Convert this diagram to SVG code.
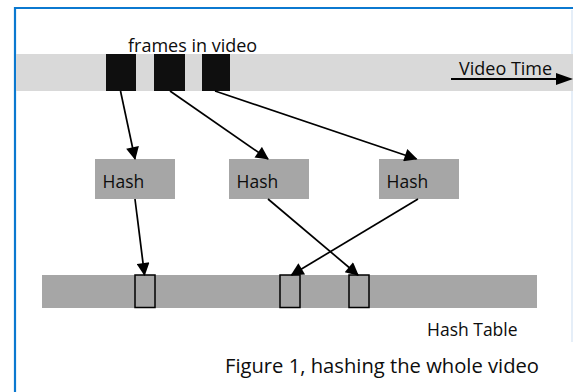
<svg xmlns="http://www.w3.org/2000/svg" width="573" height="392" viewBox="0 0 573 392">
  <style>
    .t { font-family: "Open Sans", "Liberation Sans", sans-serif; fill: #0d0d0d; }
    .conn { stroke: #000; stroke-width: 1.7; fill: none; marker-end: url(#ah); }
    .hash { fill: #a6a6a6; }
    .slot { fill: #a6a6a6; stroke: #000; stroke-width: 1.5; }
    .frame { fill: #0f0f0f; }
  </style>
  <defs>
    <marker id="ah" markerUnits="userSpaceOnUse" viewBox="0 0 12 12" refX="11" refY="6" markerWidth="15" markerHeight="13" orient="auto">
      <path d="M0,0 L12,6 L0,12 z" fill="#000"/>
    </marker>
  </defs>
  <rect width="573" height="392" fill="#fff"/>
  <!-- frame border -->
  <path d="M15,392 V8 H573" fill="none" stroke="#0b79d0" stroke-width="2.2"/>
  <line x1="572" y1="10" x2="572" y2="342" stroke="#dce9f6" stroke-width="1.5"/>

  <!-- video band -->
  <g id="video-band">
    <rect x="16" y="54" width="557" height="37" fill="#d9d9d9"/>
    <text class="t" x="128" y="52" font-size="18">frames in video</text>
  </g>
  <g id="frame1"><rect class="frame" x="106" y="54" width="30" height="37"/></g>
  <g id="frame2"><rect class="frame" x="154" y="54" width="31" height="37"/></g>
  <g id="frame3"><rect class="frame" x="202" y="54" width="28" height="37"/></g>
  <g id="video-time">
    <text class="t" x="459" y="75" font-size="18">Video Time</text>
    <line x1="451" y1="79" x2="560" y2="79" stroke="#000" stroke-width="2"/>
    <path d="M556,73 L573,79 L556,85 z" fill="#000"/>
  </g>

  <!-- hash nodes -->
  <g id="hash1"><rect class="hash" x="95" y="159" width="80" height="40"/><text class="t" x="102.5" y="188" font-size="17.5">Hash</text></g>
  <g id="hash2"><rect class="hash" x="229" y="159" width="80" height="40"/><text class="t" x="236.5" y="188" font-size="17.5">Hash</text></g>
  <g id="hash3"><rect class="hash" x="379" y="159" width="80" height="40"/><text class="t" x="386.5" y="188" font-size="17.5">Hash</text></g>

  <!-- hash table -->
  <g id="hash-table">
    <rect x="42" y="275" width="495" height="33" fill="#a6a6a6"/>
    <text class="t" x="427" y="336" font-size="17.5">Hash Table</text>
  </g>
  <g id="slot1"><rect class="slot" x="135" y="275" width="20" height="32.5"/></g>
  <g id="slot2"><rect class="slot" x="280" y="275" width="20" height="32.5"/></g>
  <g id="slot3"><rect class="slot" x="349" y="275" width="20" height="32.5"/></g>

  <!-- connectors -->
  <g id="connectors">
    <line class="conn" x1="120.5" y1="91" x2="135" y2="159"/>
    <line class="conn" x1="170" y1="91" x2="268" y2="159"/>
    <line class="conn" x1="215" y1="91" x2="416.5" y2="159"/>
    <line class="conn" x1="135" y1="199" x2="144.5" y2="275"/>
    <line class="conn" x1="268" y1="199" x2="358" y2="275"/>
    <line class="conn" x1="418" y1="199" x2="291.5" y2="275"/>
  </g>

  <g id="caption">
    <text class="t" x="225" y="373" font-size="20.2">Figure 1, hashing the whole video</text>
  </g>
</svg>
